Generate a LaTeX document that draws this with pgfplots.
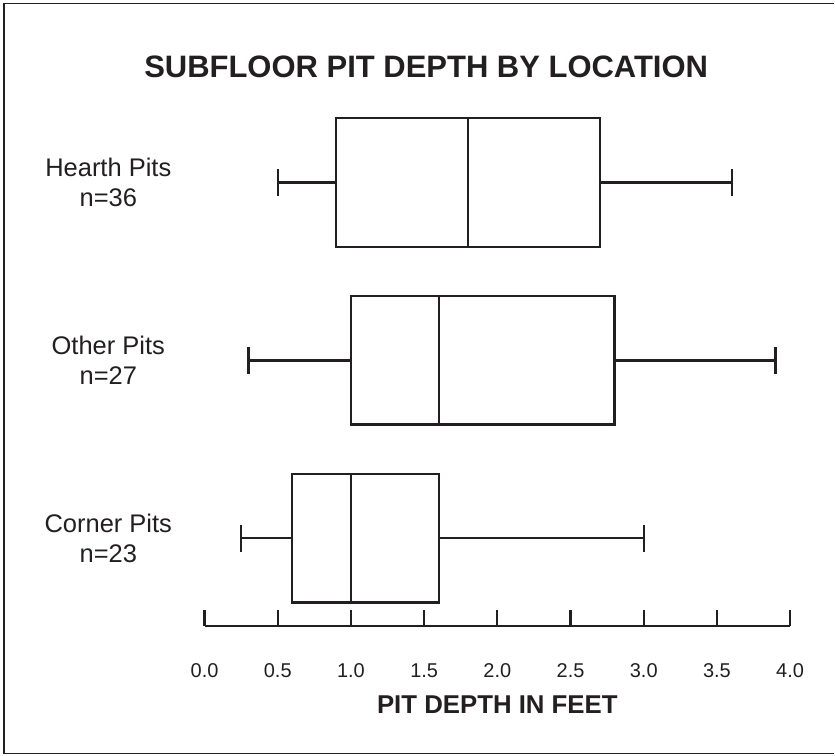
\documentclass[border=0pt]{standalone}
\usepackage{pgfplots}
\pgfplotsset{compat=1.18}
\usepgfplotslibrary{statistics}
\usepackage{fontspec}
\setmainfont{Liberation Sans}
\definecolor{ink}{RGB}{35,31,32}
\begin{document}
\begin{tikzpicture}
\begin{axis}[
  scale only axis,
  width=584bp, height=532.5bp,
  xmin=0, xmax=4, ymin=0.51, ymax=3.51,
  clip=false,
  axis x line=bottom, axis y line=none,
  axis line style={-, line width=2.1bp, draw=ink},
  xtick={0,0.5,...,4.0},
  ytick=\empty,
  tick align=inside,
  major tick length=16bp,
  tick style={line width=2.1bp, draw=ink},
  /pgf/number format/assume math mode=true,
  /pgf/number format/.cd, fixed, fixed zerofill, precision=1, /pgfplots/.cd,
  xticklabel style={font=\fontsize{20}{24}\selectfont, text=ink, anchor=base, yshift=-51.7bp},
  boxplot/draw direction=x,
]
\addplot[draw=ink, line width=2.1bp, boxplot prepared={lower whisker=0.5, lower quartile=0.9, median=1.8, upper quartile=2.7, upper whisker=3.6, draw position=3, box extend=0.72, whisker extend=0.15}] coordinates {};
\addplot[draw=ink, line width=2.1bp, boxplot prepared={lower whisker=0.3, lower quartile=1.0, median=1.6, upper quartile=2.8, upper whisker=3.9, draw position=2, box extend=0.72, whisker extend=0.15}] coordinates {};
\addplot[draw=ink, line width=2.1bp, boxplot prepared={lower whisker=0.25, lower quartile=0.6, median=1.0, upper quartile=1.6, upper whisker=3.0, draw position=1, box extend=0.72, whisker extend=0.15}] coordinates {};
% labels
\node[align=center, text=ink, font=\fontsize{25.5}{30}\selectfont] at (axis cs:-0.6575,3) {Hearth Pits\\n=36};
\node[align=center, text=ink, font=\fontsize{25.5}{30}\selectfont] at (axis cs:-0.6575,2) {Other Pits\\n=27};
\node[align=center, text=ink, font=\fontsize{25.5}{30}\selectfont] at (axis cs:-0.6575,1) {Corner Pits\\n=23};
\node[anchor=base, text=ink, font=\bfseries\fontsize{31}{36}\selectfont] at (axis cs:1.5137,3.5915) {SUBFLOOR PIT DEPTH BY LOCATION};
\node[anchor=base, text=ink, font=\bfseries\fontsize{25.8}{30}\selectfont] at (axis cs:2,0.0141) {PIT DEPTH IN FEET};
% frame (right edge cut off in the reference)
\draw[draw=ink, line width=1.5bp] (axis cs:4.3014,4.0056) -- (axis cs:-1.3716,4.0056) -- (axis cs:-1.3716,-0.2085) -- (axis cs:4.3014,-0.2085);
\path (axis cs:-1.3973,4.0254) rectangle (axis cs:4.3014,-0.2169);
\end{axis}
\end{tikzpicture}
\end{document}
